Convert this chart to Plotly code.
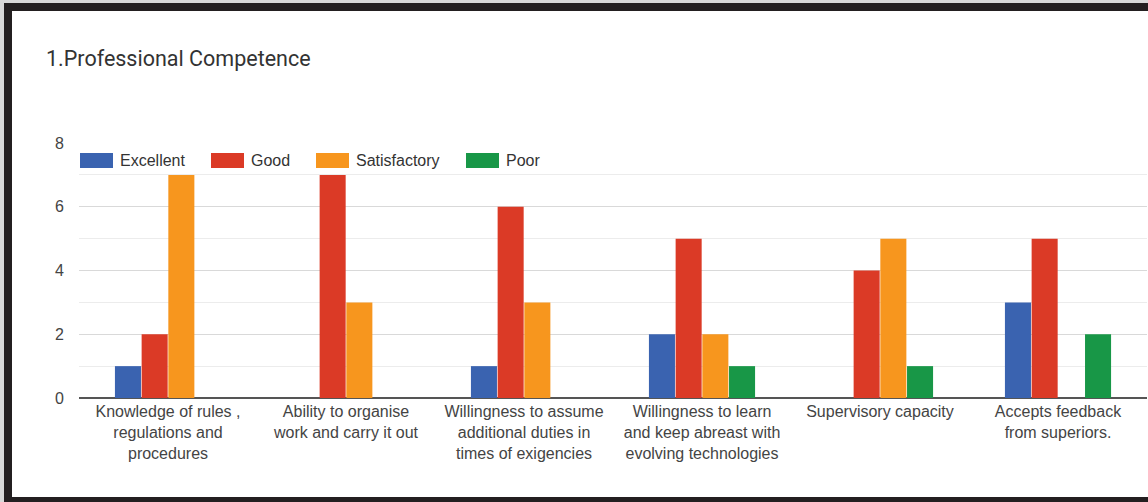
import plotly.graph_objects as go

categories = [
    "Knowledge of rules ,<br>regulations and<br>procedures",
    "Ability to organise<br>work and carry it out",
    "Willingness to assume<br>additional duties in<br>times of exigencies",
    "Willingness to learn<br>and keep abreast with<br>evolving technologies",
    "Supervisory capacity",
    "Accepts feedback<br>from superiors.",
]
series_names = ["Excellent", "Good", "Satisfactory", "Poor"]
excellent = [1, 0, 1, 2, 0, 3]
good = [2, 7, 6, 5, 4, 5]
satisfactory = [7, 3, 3, 2, 5, 0]
poor = [0, 0, 0, 1, 1, 2]
series_values = [excellent, good, satisfactory, poor]
colors = ["#3a63b0", "#db3a26", "#f7961e", "#189747"]
title_text = "1.Professional Competence"

W, H = 1148, 502
L, R, T, B = 79, 1, 143, 104
pw, ph = W - L - R, H - T - B


def px(x):
    return (x - L) / pw


def py(y):
    return (H - B - y) / ph


fig = go.Figure()
for name, vals, col in zip(series_names, series_values, colors):
    fig.add_trace(go.Bar(
        x=list(range(len(categories))), y=vals, name=name,
        marker=dict(color=col, line=dict(width=0)),
        showlegend=False,
    ))

shapes = []
annotations = []
# custom legend
legend_x = [80, 211, 316, 466]
for lx, name, col in zip(legend_x, series_names, colors):
    shapes.append(dict(type="rect", xref="paper", yref="paper",
                       x0=px(lx), x1=px(lx + 33), y0=py(168), y1=py(153),
                       fillcolor=col, line=dict(width=0), layer="above"))
    annotations.append(dict(text=name, xref="paper", yref="paper",
                            x=px(lx + 38), y=py(160.5), xanchor="left", yanchor="middle",
                            showarrow=False,
                            font=dict(family="Liberation Sans, Arial", size=16, color="#333333")))

# title
annotations.append(dict(text=title_text, xref="paper", yref="paper",
                        x=px(44), y=py(58), xanchor="left", yanchor="middle",
                        showarrow=False,
                        font=dict(family="Roboto, Arial", size=21.5, color="#333333")))

# dark frame
frame = "#231f20"
shapes.append(dict(type="rect", xref="paper", yref="paper",
                   x0=px(4), x1=px(12), y0=py(502), y1=py(3),
                   fillcolor=frame, line=dict(width=0), layer="above"))
shapes.append(dict(type="rect", xref="paper", yref="paper",
                   x0=px(4), x1=px(1148), y0=py(11), y1=py(3),
                   fillcolor=frame, line=dict(width=0), layer="above"))
shapes.append(dict(type="rect", xref="paper", yref="paper",
                   x0=px(4), x1=px(1148), y0=py(502), y1=py(497),
                   fillcolor=frame, line=dict(width=0), layer="above"))
shapes.append(dict(type="rect", xref="paper", yref="paper",
                   x0=px(0), x1=px(4), y0=py(502), y1=py(0),
                   fillcolor="#d8d8d8", line=dict(width=0), layer="above"))
shapes.append(dict(type="rect", xref="paper", yref="paper",
                   x0=px(0), x1=px(1148), y0=py(3), y1=py(0),
                   fillcolor="#d8d8d8", line=dict(width=0), layer="above"))

fig.update_layout(
    width=W, height=H,
    margin=dict(l=L, r=R, t=T, b=B),
    paper_bgcolor="white", plot_bgcolor="white",
    barmode="group", bargap=0.4, bargroupgap=0.025,
    shapes=shapes, annotations=annotations,
    font=dict(family="Liberation Sans, Arial", size=16, color="#444444"),
    xaxis=dict(
        tickmode="array", tickvals=list(range(len(categories))), ticktext=categories,
        range=[-0.5, len(categories) - 0.5], showgrid=False, zeroline=False,
        showline=False, ticks="", tickangle=0, ticklabelstandoff=2,
        tickfont=dict(family="Liberation Sans, Arial", size=16, color="#444444"),
    ),
    yaxis=dict(
        range=[0, 8], dtick=2, tick0=0, showgrid=True, gridcolor="#d9d9d9", gridwidth=1,
        zeroline=True, zerolinecolor="#555555", zerolinewidth=2, layer="above traces",
        minor=dict(dtick=1, showgrid=True, gridcolor="#ececec", gridwidth=1),
        ticks="", ticklabelstandoff=14,
        tickfont=dict(family="Liberation Sans, Arial", size=16, color="#444444"),
    ),
)

fig.write_html("out.html", config={"displayModeBar": False},
               post_script="document.body.style.margin='0';document.body.style.overflow='hidden';")
